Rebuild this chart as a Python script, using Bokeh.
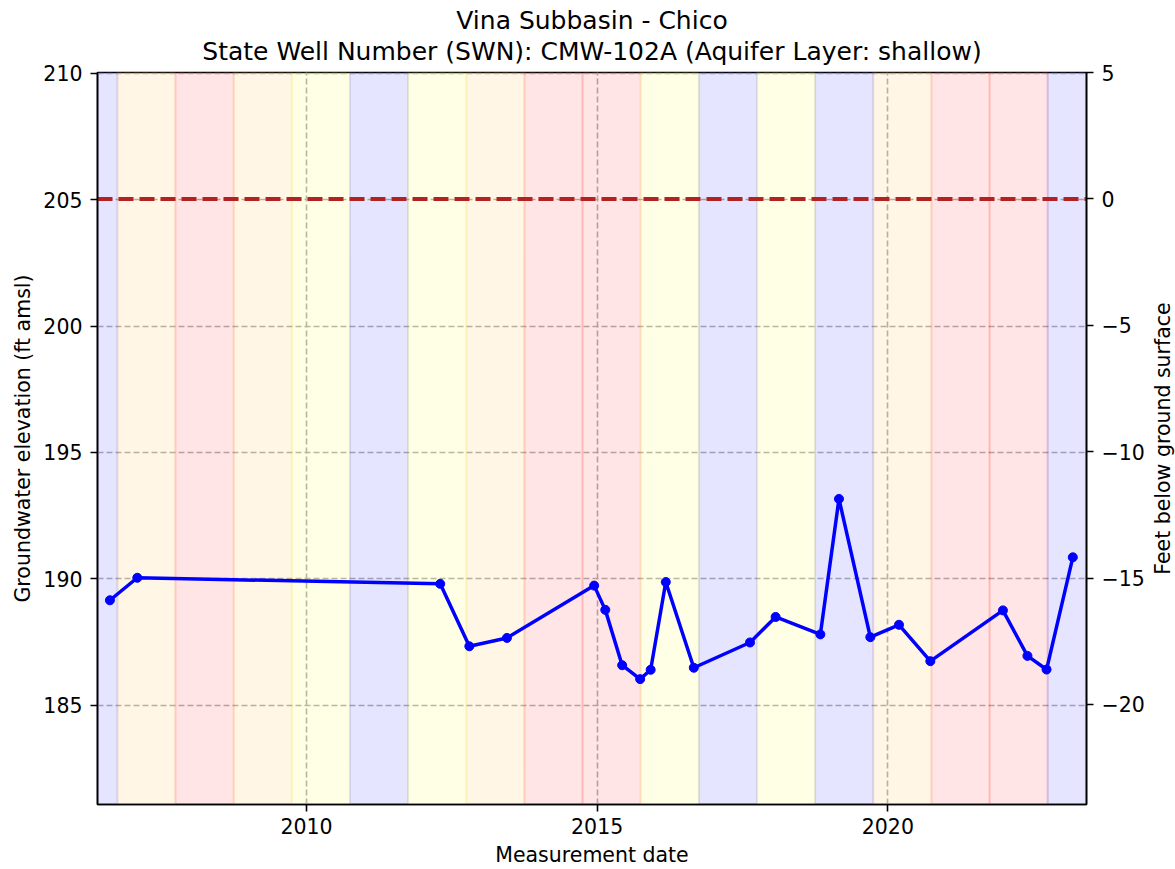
import math
import pandas as pd
from bokeh.plotting import figure
from bokeh.layouts import row
from bokeh.models import (Range1d, LinearAxis, FixedTicker, Span, Title, Label,
                          BoxAnnotation, DatetimeTickFormatter, ColumnDataSource)
from bokeh.embed import file_html
from bokeh.resources import INLINE

# ---------------- data ----------------
title_line1 = "Vina Subbasin - Chico"
title_line2 = "State Well Number (SWN): CMW-102A (Aquifer Layer: shallow)"
right_label = "Feet below ground surface"

dates = ["2006-08-15", "2007-02-03", "2012-04-20", "2012-10-20", "2013-06-13",
         "2014-12-13", "2015-02-21", "2015-06-07", "2015-09-28", "2015-12-03",
         "2016-03-07", "2016-08-30", "2017-08-18", "2018-01-26", "2018-11-03",
         "2019-02-28", "2019-09-13", "2020-03-11", "2020-09-24", "2021-12-24",
         "2022-05-27", "2022-09-24", "2023-03-08"]
gwe = [189.15, 190.04, 189.80, 187.33, 187.66,
       189.73, 188.77, 186.58, 186.03, 186.40,
       189.87, 186.48, 187.48, 188.49, 187.80,
       193.16, 187.69, 188.18, 186.74, 188.75,
       186.95, 186.41, 190.85]

ground_surface = 205.03   # ft amsl (0 ft below ground surface)

water_years = list(range(2006, 2024))
wy_types = ["W", "D", "C", "D", "BN", "W", "BN", "D", "C", "C",
            "BN", "W", "BN", "W", "D", "C", "C", "W"]
wy_colors = {"W": "blue", "AN": "green", "BN": "yellow", "D": "orange", "C": "red"}

y_ticks = [185, 190, 195, 200, 205, 210]
depth_ticks = [-20, -15, -10, -5, 0, 5]
x_tick_years = [2010, 2015, 2020]

x_start, x_end = "2006-05-29", "2023-06-02"
y_start, y_end = 181.07, 210.03

# ---------------- figure ----------------
def ms(d):
    return pd.Timestamp(d).value / 1e6

src = ColumnDataSource(dict(x=pd.to_datetime(dates), y=gwe))

H = 869
W_MAIN, W_SIDE = 1149, 26
BL, BR, BT, BB = 97, 63, 72, 65
FONT = "DejaVu Sans"

p = figure(width=W_MAIN, height=H, x_axis_type="datetime",
           x_range=Range1d(ms(x_start), ms(x_end)),
           y_range=Range1d(y_start, y_end),
           output_backend="svg", toolbar_location=None,
           min_border_left=BL, min_border_right=BR,
           min_border_top=BT, min_border_bottom=BB)
p.background_fill_color = "white"
p.border_fill_color = "white"
p.outline_line_color = "black"
p.outline_line_width = 1.6

# titles (first added = closest to plot)
t2 = Title(text=title_line2, align="center", text_font=FONT, text_font_size="25px",
           text_font_style="normal", text_color="black", standoff=13)
t1 = Title(text=title_line1, align="center", text_font=FONT, text_font_size="25px",
           text_font_style="normal", text_color="black", standoff=-13)
p.add_layout(t2, "above")
p.add_layout(t1, "above")

# water-year type bands
for wy, t in zip(water_years, wy_types):
    c = wy_colors[t]
    p.add_layout(BoxAnnotation(left=ms(f"{wy-1}-10-01"), right=ms(f"{wy}-10-01"),
                               fill_color=c, fill_alpha=0.1,
                               line_color=c, line_alpha=0.1, line_width=2,
                               level="underlay"))

# ground surface line
p.add_layout(Span(location=ground_surface, dimension="width", line_color="#b22222",
                  line_width=4, line_dash="15 6", level="glyph"))

# series
p.line("x", "y", source=src, line_color="blue", line_width=3.5)
p.scatter("x", "y", source=src, marker="circle", size=9,
          fill_color="blue", line_color="blue")

# x axis
xt = FixedTicker(ticks=[ms(f"{y}-01-01") for y in x_tick_years])
xa = p.xaxis[0]
xa.ticker = xt
xa.formatter = DatetimeTickFormatter(years="%Y", months="%Y", days="%Y",
                                     hours="%Y", minutes="%Y", seconds="%Y",
                                     milliseconds="%Y", microseconds="%Y")
xa.axis_label = "Measurement date"
xa.major_label_standoff = 6
xa.axis_label_standoff = 6

# left y axis
ya = p.yaxis[0]
ya.ticker = FixedTicker(ticks=y_ticks)
ya.axis_label = "Groundwater elevation (ft amsl)"
ya.major_label_standoff = 8
ya.axis_label_standoff = 5

# right axis (its title is drawn in the narrow side panel so it reads upward)
p.extra_y_ranges = {"depth": Range1d(y_start - ground_surface, y_end - ground_surface)}
ra = LinearAxis(y_range_name="depth", ticker=FixedTicker(ticks=depth_ticks),
                major_label_overrides={v: (str(v).replace("-", "\u2212")) for v in depth_ticks})
ra.major_label_standoff = 8
p.add_layout(ra, "right")

for ax in [xa, ya, ra]:
    ax.major_label_text_font = FONT
    ax.major_label_text_font_size = "20.5px"
    ax.major_label_text_color = "black"
    ax.axis_label_text_font = FONT
    ax.axis_label_text_font_size = "20.5px"
    ax.axis_label_text_font_style = "normal"
    ax.axis_label_text_color = "black"
    ax.major_tick_out = 7
    ax.major_tick_in = 0
    ax.major_tick_line_width = 1.6
    ax.major_tick_line_color = "black"
    ax.minor_tick_line_color = None
    ax.axis_line_color = "black"
    ax.axis_line_width = 1.6

# grid
p.xgrid.ticker = xt
for g in [p.xgrid[0], p.ygrid[0]]:
    g.grid_line_color = "#b0b0b0"
    g.grid_line_width = 1.6
    g.grid_line_dash = "6 3"

# narrow side figure carrying the right-hand axis title (reads bottom-to-top)
s = figure(width=W_SIDE, height=H, output_backend="svg", toolbar_location=None,
           x_axis_location=None, y_axis_location=None,
           x_range=Range1d(0, 1), y_range=Range1d(0, 1),
           min_border_left=0, min_border_right=0, min_border_top=BT, min_border_bottom=BB)
s.outline_line_color = None
s.grid.visible = False
s.background_fill_color = "white"
s.border_fill_color = "white"
s.add_layout(Label(x=W_SIDE / 2, y=(H - BT - BB) / 2, x_units="screen", y_units="screen",
                   text=right_label, angle=math.pi / 2, text_align="center",
                   text_baseline="middle", text_font=FONT, text_font_size="20.5px",
                   text_color="black"))

layout = row(p, s, spacing=0)
open("out.html", "w").write(file_html(layout, INLINE))
